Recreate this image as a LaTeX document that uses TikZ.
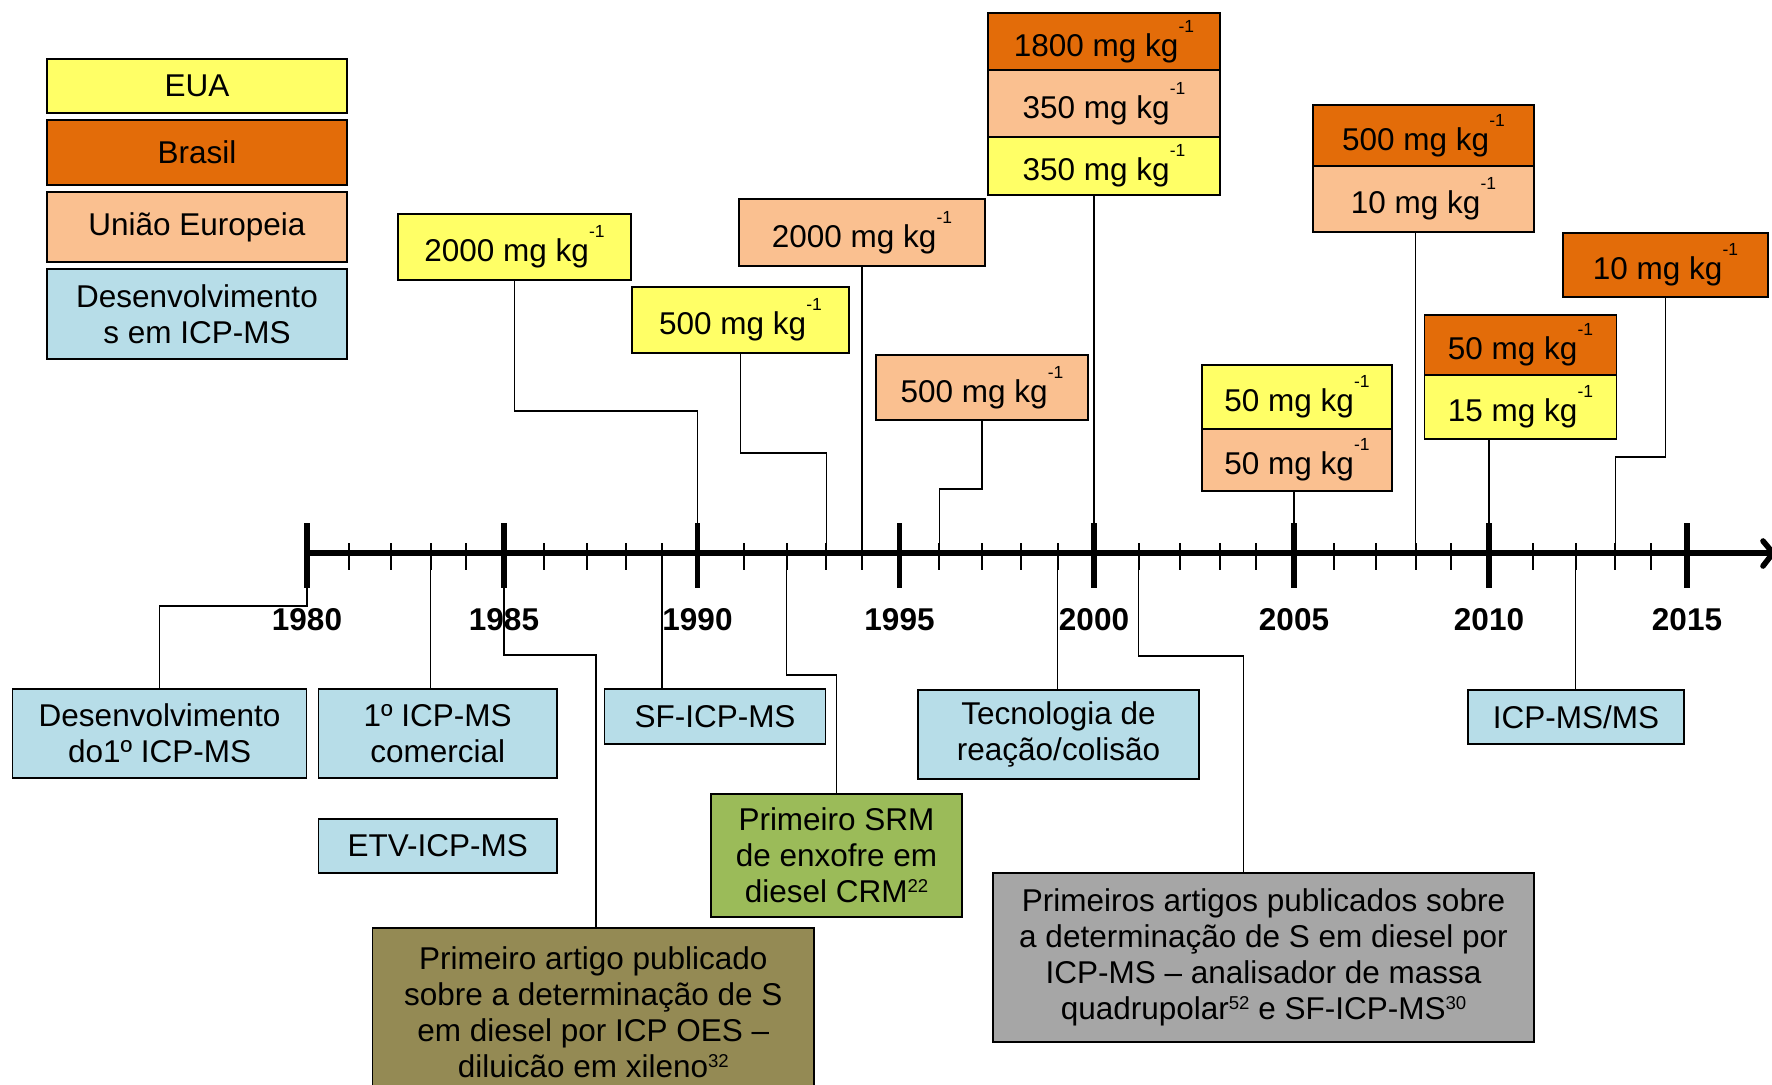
\documentclass[tikz,border=0pt]{standalone}
\usepackage{fontspec}
\setmainfont{Liberation Sans}
\usetikzlibrary{calc}
\definecolor{yel}{HTML}{FFFF66}
\definecolor{bra}{HTML}{E36C09}
\definecolor{uec}{HTML}{FAC090}
\definecolor{blu}{HTML}{B7DDE8}
\definecolor{grn}{HTML}{9BBB59}
\definecolor{olv}{HTML}{948A54}
\definecolor{gry}{HTML}{A6A6A6}
\newcommand\mgkg{mg kg\raisebox{12pt}{\fontsize{8.75}{9}\selectfont -1}}
\newcommand\sups[1]{\raisebox{5.3pt}{\fontsize{9.3}{9.3}\selectfont #1}}
\newcommand\mkbox[7]{\node[box,fill=#6,minimum width={(#4-#2)*0.5pt},minimum height={(#5-#3)*0.5pt}] (#1) at ({(#2+#4)/2},{(#3+#5)/2}) {#7};}
\tikzset{
  box/.style={draw=black, line width=0.8pt, inner sep=0pt, outer sep=0pt, align=center, font=\fontsize{15.75}{18}\selectfont},
  conn/.style={line width=0.65pt},
  minortick/.style={line width=1pt},
  majortick/.style={line width=2.6pt},
  yearlab/.style={anchor=base, inner sep=0pt, font=\fontsize{15.75}{18}\selectfont\bfseries},
}
\begin{document}
\begin{tikzpicture}[x=0.5pt,y=-0.5pt]
\useasboundingbox (0,0) rectangle (1772,1084);
\clip (0,0) rectangle (1772,1084);
% tick coordinates
\foreach \yr/\xx in {1980/307,1981/348.7,1982/390.6,1983/430.8,1984/466.4,1985/504,
  1986/544,1987/587,1988/626,1989/662,1990/697.5,1991/743.7,1992/786.7,1993/826.3,1994/862,
  1995/899.5,1996/939.4,1997/982,1998/1021,1999/1057.7,2000/1094,2001/1138.6,2002/1180.4,
  2003/1219.9,2004/1256,2005/1294,2006/1333.9,2007/1376,2008/1415.7,2009/1451.4,2010/1489,
  2011/1533,2012/1575.8,2013/1615.3,2014/1651.4,2015/1687}
  {\coordinate (t\yr) at (\xx,553);}
\coordinate (axend) at (1770,553);
\coordinate (arrtop) at (1763,541);
\coordinate (arrtip) at (1773,553);
\coordinate (arrbot) at (1763,566);

% legend
\mkbox{leg1}{47}{59}{347}{113}{yel}{EUA}
\mkbox{leg2}{47}{120}{347}{185}{bra}{Brasil}
\mkbox{leg3}{47}{192}{347}{262}{uec}{União Europeia}
\mkbox{leg4}{47}{269}{347}{359}{blu}{Desenvolvimento\\s em ICP-MS}

% upper boxes
\mkbox{b2000e}{398}{214}{631}{280}{yel}{2000 \mgkg}
\mkbox{b500e}{632}{287}{849}{353}{yel}{500 \mgkg}
\mkbox{b2000u}{739}{199}{985}{266}{uec}{2000 \mgkg}
\mkbox{b500u}{876}{355}{1088}{420}{uec}{500 \mgkg}
\mkbox{s1800}{988}{13}{1220}{70}{bra}{1800 \mgkg}
\mkbox{s350u}{988}{70}{1220}{137}{uec}{350 \mgkg}
\mkbox{s350e}{988}{137}{1220}{195}{yel}{350 \mgkg}
\mkbox{s500b}{1313}{105}{1534}{166}{bra}{500 \mgkg}
\mkbox{s10u}{1313}{166}{1534}{232}{uec}{10 \mgkg}
\mkbox{b10b}{1563}{233}{1768}{297}{bra}{10 \mgkg}
\mkbox{s50b}{1424.5}{315}{1616.5}{375}{bra}{50 \mgkg}
\mkbox{s15e}{1424.5}{375}{1616.5}{439}{yel}{15 \mgkg}
\mkbox{s50e}{1202}{365}{1392}{429}{yel}{50 \mgkg}
\mkbox{s50u}{1202}{429}{1392}{491}{uec}{50 \mgkg}

% lower boxes
\mkbox{dev1}{12.6}{689}{306.5}{778}{blu}{Desenvolvimento\\do1º ICP-MS}
\mkbox{com}{318.6}{689}{556.8}{778}{blu}{1º ICP-MS\\comercial}
\mkbox{etv}{318.6}{819}{556.8}{873}{blu}{ETV-ICP-MS}
\mkbox{sf}{604.5}{689}{825.5}{744}{blu}{SF-ICP-MS}
\mkbox{srm}{711}{794}{962}{917}{grn}{Primeiro SRM\\de enxofre em\\diesel CRM\sups{22}}
\mkbox{art}{372.6}{928}{814}{1097}{olv}{Primeiro artigo publicado\\sobre a determinação de S\\em diesel por ICP OES –\\diluicão em xileno\sups{32}}
\mkbox{tec}{918}{690}{1199}{779}{blu}{Tecnologia de\\reação/colisão}
\mkbox{gray}{993}{873}{1534}{1042}{gry}{Primeiros artigos publicados sobre\\a determinação de S em diesel por\\ICP-MS – analisador de massa\\quadrupolar\sups{52} e SF-ICP-MS\sups{30}}
\mkbox{msms}{1468}{690}{1684}{744}{blu}{ICP-MS/MS}

% connectors (upper)
\draw[conn] (b2000e.south) -- ++(0,131) -| (t1990);
\draw[conn] (b500e.south) -- ++(0,100) -| (t1993);
\draw[conn] (b2000u.south) -- (t1994);
\draw[conn] (b500u.south) -- ++(0,69) -| (t1996);
\draw[conn] (s350e.south -| t2000) -- (t2000);
\draw[conn] (s10u.south -| t2008) -- (t2008);
\draw[conn] (b10b.south) -- ++(0,160) -| (t2013);
\draw[conn] (s15e.south -| t2010) -- (t2010);
\draw[conn] (s50u.south -| t2005) -- (t2005);
% connectors (lower)
\draw[conn] (t1980) -- ++(0,53) -| (dev1.north);
\draw[conn] (t1983) -- (t1983 |- com.north);
\draw[conn] (t1989) -- (t1989 |- sf.north);
\draw[conn] (t1992) -- ++(0,122) -| (srm.north);
\draw[conn] (t1985) -- ++(0,102) -| ([xshift=1.3pt]art.north);
\draw[conn] (t1999) -- (t1999 |- tec.north);
\draw[conn] (t2001) -- ++(0,103) -| ([xshift=-10pt]gray.north);
\draw[conn] (t2012) -- (t2012 |- msms.north);

% axis
\draw[line width=3pt] (t1980) -- (axend);
\draw[line width=2.8pt, line cap=round, line join=round] (arrtop) -- (arrtip) -- (arrbot);
\foreach \xx in {348.7,390.6,430.8,466.4,544,587,626,662,743.7,786.7,826.3,862,
  939.4,982,1021,1057.7,1138.6,1180.4,1219.9,1256,1333.9,1376,1415.7,1451.4,
  1533,1575.8,1615.3,1651.4}
  {\draw[minortick] (\xx,543) -- (\xx,570);}
\foreach \xx in {307,504,697.5,899.5,1094,1294,1489,1687}
  {\draw[majortick] (\xx,523) -- (\xx,588);}
% year labels
\foreach \yr in {1980,1985,1990,1995,2000,2005,2010,2015}
  {\node[yearlab] (y\yr) at ($(t\yr)+(0,77)$) {\yr};}
\end{tikzpicture}
\end{document}
